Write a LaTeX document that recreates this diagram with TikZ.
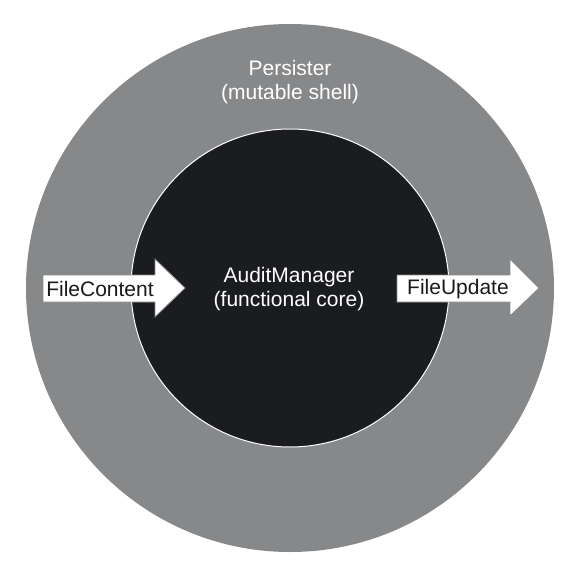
\documentclass[tikz,border=0pt]{standalone}
\usepackage{fontspec}
\setmainfont{Liberation Sans}
\definecolor{shellgray}{HTML}{87888A}
\definecolor{coreblack}{HTML}{1A1C1F}
\definecolor{inktext}{HTML}{1A1A1A}

\begin{document}
\begin{tikzpicture}[line cap=round,line join=round,x=1pt,y=-1pt,
    lbl/.style={font=\fontsize{21}{24.5}\selectfont,align=center,inner sep=0pt},
    flow/.style={fill=white,draw=shellgray,line width=0.8pt,line cap=butt,line join=miter}]
  \useasboundingbox (0,0) rectangle (572,586);
  % shell and core
  \fill[shellgray] (290,288) circle[radius=264pt];
  \draw[white,line width=1pt,fill=coreblack] (290,288) circle[radius=159pt];
  \node[lbl,text=white] (shell) at (290,82) {Persister\\(mutable shell)};
  \node[lbl,text=white] (core) at (289,289) {AuditManager\\(functional core)};
  % input arrow
  \draw[flow] (43,275) -- (155,275) -- (155,259) -- (185,288) -- (155,317) -- (155,302) -- (43,302) -- cycle;
  \node[lbl,text=inktext] (content) at (100,289) {FileContent};
  % output arrow
  \draw[flow] (397,275) -- (510,275) -- (510,259) -- (539,288) -- (510,316) -- (510,302) -- (397,302) -- cycle;
  \node[lbl,text=inktext] (update) at (458,289) {FileUpdate};
\end{tikzpicture}
\end{document}
